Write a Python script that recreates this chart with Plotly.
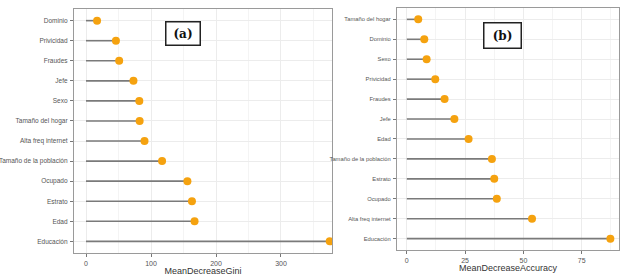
import plotly.graph_objects as go

# Panel (a): MeanDecreaseGini
gini_vars = ["Educación", "Edad", "Estrato", "Ocupado", "Tamaño de la población",
             "Alta freq internet", "Tamaño del hogar", "Sexo", "Jefe", "Fraudes",
             "Privicidad", "Dominio"]
gini_vals = [375, 167, 163, 156, 117, 90, 82.5, 82, 73, 51, 46, 17]

# Panel (b): MeanDecreaseAccuracy
acc_vars = ["Educación", "Alta freq internet", "Ocupado", "Estrato",
            "Tamaño de la población", "Edad", "Jefe", "Fraudes", "Privicidad",
            "Sexo", "Dominio", "Tamaño del hogar"]
acc_vals = [87.3, 53.7, 38.6, 37.5, 36.5, 26.5, 20.4, 16.2, 12.2, 8.5, 7.5, 4.9]

W, H = 624, 276
FONT = "Liberation Sans Narrow, Liberation Sans, Arial"
SEG = "#7a7a7a"
DOT = "#F5A20F"

fig = go.Figure()

def add_panel(vars_, vals, xa, ya):
    xs, ys = [], []
    for v, c in zip(vals, vars_):
        xs += [0, v, None]
        ys += [c, c, None]
    fig.add_trace(go.Scatter(x=xs, y=ys, mode="lines", xaxis=xa, yaxis=ya,
                             line=dict(color=SEG, width=1.6), hoverinfo="skip",
                             showlegend=False))
    fig.add_trace(go.Scatter(x=vals, y=vars_, mode="markers", xaxis=xa, yaxis=ya,
                             marker=dict(color=DOT, size=8), showlegend=False))

add_panel(gini_vars, gini_vals, "x", "y")
add_panel(acc_vars, acc_vals, "x2", "y2")

axis_common = dict(showline=True, linecolor="#9a9a9a", linewidth=1.2, mirror=True,
                   gridcolor="#ececec", gridwidth=0.8, zeroline=False, automargin=False,
                   ticks="outside", ticklen=3, tickcolor="#777",
                   tickfont=dict(family=FONT, size=7, color="#555"))

fig.update_layout(
    width=W, height=H, margin=dict(l=0, r=0, t=0, b=0),
    paper_bgcolor="white", plot_bgcolor="white",
    xaxis=dict(domain=[74/W, 332/W], range=[-18.5, 378.5], tickvals=[0, 100, 200, 300],
               minor=dict(tickvals=[50, 150, 250, 350], showgrid=True, gridcolor="#f4f4f4", ticks=""),
               title=dict(text="MeanDecreaseGini", font=dict(family=FONT, size=9, color="#333"),
                          standoff=2),
               anchor="y", **axis_common),
    yaxis=dict(domain=[(H-253)/H, (H-9)/H], type="category", categoryorder="array",
               categoryarray=gini_vars, range=[-0.58, 11.58], anchor="x", ticklabelstandoff=1,
               **{**axis_common, "tickfont": dict(family=FONT, size=6.5, color="#555")}),
    xaxis2=dict(domain=[397/W, 619/W], range=[-4.2, 91.0], tickvals=[0, 25, 50, 75],
                minor=dict(tickvals=[12.5, 37.5, 62.5, 87.5], showgrid=True, gridcolor="#f4f4f4", ticks=""),
                title=dict(text="MeanDecreaseAccuracy", font=dict(family=FONT, size=9, color="#333"),
                           standoff=2),
                anchor="y2", **axis_common),
    yaxis2=dict(domain=[(H-250)/H, (H-8)/H], type="category", categoryorder="array",
                categoryarray=acc_vars, range=[-0.57, 11.57], anchor="x2", ticklabelstandoff=1,
                **{**axis_common, "tickfont": dict(family=FONT, size=5.8, color="#555")}),
)

fig.add_annotation(text="<b>(a)</b>", xref="paper", yref="paper",
                   x=183/W, y=(H-33.5)/H, xanchor="center", yanchor="middle", showarrow=False,
                   font=dict(family="DejaVu Serif, Liberation Serif, serif", size=12, color="#111"),
                   bordercolor="#222", borderwidth=1.5, borderpad=3, bgcolor="white",
                   width=27, height=16)
fig.add_annotation(text="<b>(b)</b>", xref="paper", yref="paper",
                   x=502.5/W, y=(H-35.5)/H, xanchor="center", yanchor="middle", showarrow=False,
                   font=dict(family="DejaVu Serif, Liberation Serif, serif", size=12, color="#111"),
                   bordercolor="#222", borderwidth=1.5, borderpad=3, bgcolor="white",
                   width=30, height=18)

fig.write_html("out.html", config={"displayModeBar": False},
               post_script="document.body.style.margin='0';")
